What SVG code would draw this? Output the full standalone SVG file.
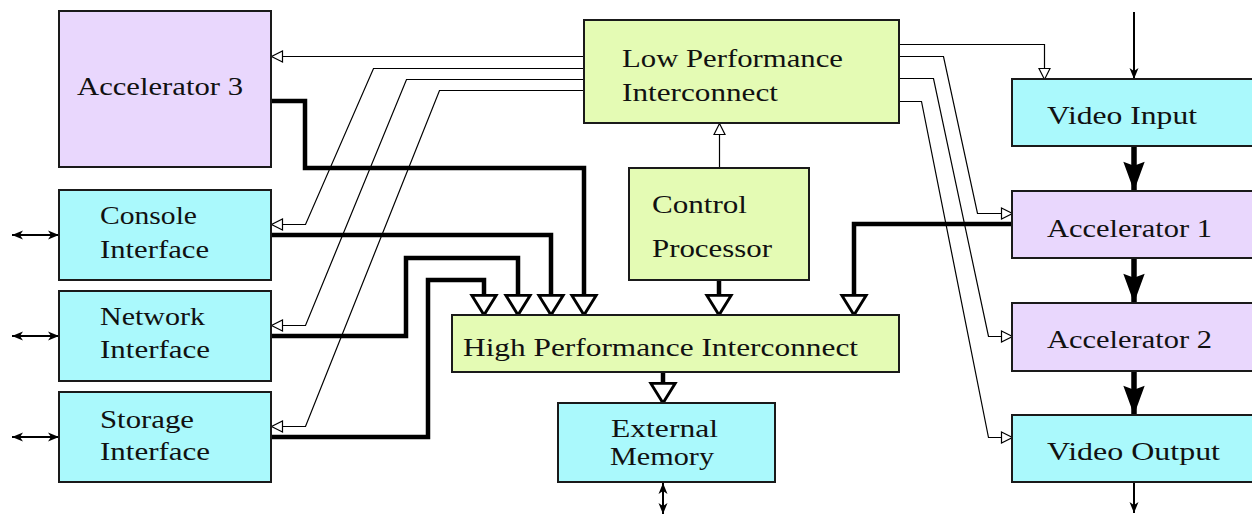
<svg xmlns="http://www.w3.org/2000/svg" width="1252" height="514" viewBox="0 0 1252 514">
<style>
.box{stroke:#1a1a1a;stroke-width:2}
.cyan{fill:#aaf9fc}
.lav{fill:#e9d7fd}
.grn{fill:#e4fbb4}
text{font-family:"Liberation Serif","Times New Roman",serif;font-size:26px;fill:#111}
.thin{fill:none;stroke:#000;stroke-width:1.2}
.thick{fill:none;stroke:#000;stroke-width:4.5}
.vid{fill:none;stroke:#000;stroke-width:5.5}
.io{fill:none;stroke:#000;stroke-width:2}
</style>
<defs>
<marker id="ot" markerUnits="userSpaceOnUse" markerWidth="16" markerHeight="16" viewBox="-13 -8 16 16" refX="0" refY="0" orient="auto" overflow="visible">
<path d="M-11,-5.5 L0,0 L-11,5.5 Z" fill="#fff" stroke="#000" stroke-width="1.2"/>
</marker>
<marker id="bt" markerUnits="userSpaceOnUse" markerWidth="30" markerHeight="30" viewBox="-20 -13 24 26" refX="0" refY="0" orient="auto" overflow="visible">
<path d="M-17,-10.5 L0,0 L-17,10.5 Z" fill="#fff" stroke="#000" stroke-width="2.5" stroke-linejoin="miter"/>
</marker>
<marker id="bf" markerUnits="userSpaceOnUse" markerWidth="34" markerHeight="28" viewBox="-31 -13 35 26" refX="0" refY="0" orient="auto" overflow="visible">
<path d="M-30,-11 L0,0 L-30,11 L-26,0 Z" fill="#000"/>
</marker>
<marker id="sf" markerUnits="userSpaceOnUse" markerWidth="14" markerHeight="12" viewBox="-12 -6 14 12" refX="0" refY="0" orient="auto-start-reverse" overflow="visible">
<path d="M-11,-4.5 L0,0 L-11,4.5 L-8,0 Z" fill="#000"/>
</marker>
</defs>
<rect width="1252" height="514" fill="#fff"/>

<g id="connectors">
<g transform="translate(0.5,0.5)">
<path class="thin" d="M584,56 L271,56" marker-end="url(#ot)"/>
<path class="thin" d="M584,68 L373,68 L305,224 L271,224" marker-end="url(#ot)"/>
<path class="thin" d="M584,79 L406,79 L305,325 L271,325" marker-end="url(#ot)"/>
<path class="thin" d="M584,90 L439,90 L305,426 L271,426" marker-end="url(#ot)"/>
<path class="thin" d="M899,44 L1044,44 L1044,79" marker-end="url(#ot)"/>
<path class="thin" d="M899,56 L943,56 L977,213 L1012,213" marker-end="url(#ot)"/>
<path class="thin" d="M899,78 L933,78 L988,336 L1012,336" marker-end="url(#ot)"/>
<path class="thin" d="M899,101 L921,101 L988,437 L1012,437" marker-end="url(#ot)"/>
<path class="thin" d="M719,168 L719,123" marker-end="url(#ot)"/>
</g>
<path class="thick" d="M271,101 L305,101 L305,168 L584,168 L584,315" marker-end="url(#bt)"/>
<path class="thick" d="M271,235 L551,235 L551,315" marker-end="url(#bt)"/>
<path class="thick" d="M271,336 L406,336 L406,258 L518,258 L518,315" marker-end="url(#bt)"/>
<path class="thick" d="M271,437 L428,437 L428,280 L484,280 L484,315" marker-end="url(#bt)"/>
<path class="thick" d="M719,280 L719,315" marker-end="url(#bt)"/>
<path class="thick" d="M1012,224 L854,224 L854,315" marker-end="url(#bt)"/>
<path class="thick" d="M663,372 L663,403" marker-end="url(#bt)"/>

<path class="vid" d="M1134,146 L1134,191" marker-end="url(#bf)"/>
<path class="vid" d="M1134,258 L1134,303" marker-end="url(#bf)"/>
<path class="vid" d="M1134,371 L1134,415" marker-end="url(#bf)"/>
<path class="io" d="M1134,12 L1134,79" marker-end="url(#sf)"/>
<path class="io" d="M1134,482 L1134,513" marker-end="url(#sf)"/>
<path class="io" d="M663,483 L663,514" marker-start="url(#sf)" marker-end="url(#sf)"/>
<path class="io" d="M12,235 L59,235" marker-start="url(#sf)" marker-end="url(#sf)"/>
<path class="io" d="M12,336 L59,336" marker-start="url(#sf)" marker-end="url(#sf)"/>
<path class="io" d="M12,437 L59,437" marker-start="url(#sf)" marker-end="url(#sf)"/>
</g>

<g id="accelerator3">
<rect class="box lav" x="59" y="11" width="212" height="156"/>
<text x="77" y="95" textLength="166" lengthAdjust="spacingAndGlyphs">Accelerator 3</text>
</g>
<g id="console">
<rect class="box cyan" x="59" y="190" width="212" height="90"/>
<text x="100" y="224" textLength="97" lengthAdjust="spacingAndGlyphs">Console</text>
<text x="100" y="258" textLength="109" lengthAdjust="spacingAndGlyphs">Interface</text>
</g>
<g id="network">
<rect class="box cyan" x="59" y="291" width="212" height="90"/>
<text x="100" y="325" textLength="105" lengthAdjust="spacingAndGlyphs">Network</text>
<text x="100" y="358" textLength="110" lengthAdjust="spacingAndGlyphs">Interface</text>
</g>
<g id="storage">
<rect class="box cyan" x="59" y="392" width="212" height="90"/>
<text x="100" y="428" textLength="94" lengthAdjust="spacingAndGlyphs">Storage</text>
<text x="100" y="460" textLength="110" lengthAdjust="spacingAndGlyphs">Interface</text>
</g>
<g id="lpi">
<rect class="box grn" x="584" y="20" width="315" height="103"/>
<text x="622" y="67" textLength="221" lengthAdjust="spacingAndGlyphs">Low Performance</text>
<text x="622" y="101" textLength="156" lengthAdjust="spacingAndGlyphs">Interconnect</text>
</g>
<g id="control">
<rect class="box grn" x="629" y="168" width="180" height="112"/>
<text x="652" y="213" textLength="95" lengthAdjust="spacingAndGlyphs">Control</text>
<text x="652" y="257" textLength="120" lengthAdjust="spacingAndGlyphs">Processor</text>
</g>
<g id="hpi">
<rect class="box grn" x="452" y="315" width="447" height="57"/>
<text x="463" y="356" textLength="395" lengthAdjust="spacingAndGlyphs">High Performance Interconnect</text>
</g>
<g id="memory">
<rect class="box cyan" x="558" y="403" width="217" height="79"/>
<text x="611" y="437" textLength="107" lengthAdjust="spacingAndGlyphs">External</text>
<text x="610" y="465" textLength="104" lengthAdjust="spacingAndGlyphs">Memory</text>
</g>
<g id="videoin">
<rect class="box cyan" x="1012" y="79" width="250" height="67"/>
<text x="1047" y="124" textLength="150" lengthAdjust="spacingAndGlyphs">Video Input</text>
</g>
<g id="accelerator1">
<rect class="box lav" x="1012" y="191" width="250" height="67"/>
<text x="1047" y="237" textLength="165" lengthAdjust="spacingAndGlyphs">Accelerator 1</text>
</g>
<g id="accelerator2">
<rect class="box lav" x="1012" y="303" width="250" height="68"/>
<text x="1047" y="348" textLength="165" lengthAdjust="spacingAndGlyphs">Accelerator 2</text>
</g>
<g id="videoout">
<rect class="box cyan" x="1012" y="415" width="250" height="67"/>
<text x="1047" y="460" textLength="173" lengthAdjust="spacingAndGlyphs">Video Output</text>
</g>
</svg>
